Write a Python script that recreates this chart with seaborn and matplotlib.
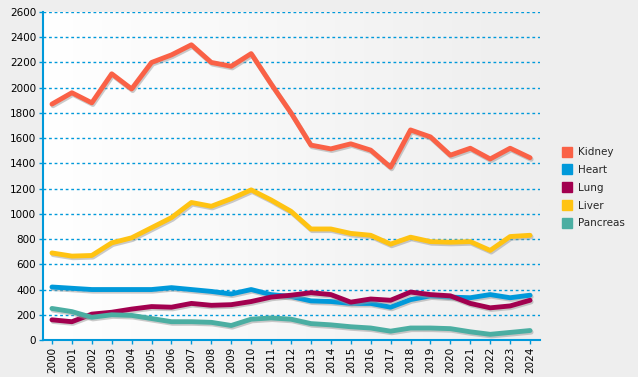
import numpy as np
import matplotlib
matplotlib.use("Agg")
import matplotlib.pyplot as plt
import matplotlib.patheffects as pe
import seaborn as sns
import pandas as pd

years = list(range(2000, 2025))
kidney = [1870, 1960, 1880, 2110, 1990, 2200, 2260, 2340, 2200, 2170, 2270, 2030, 1800, 1545,
          1515, 1555, 1505, 1370, 1665, 1610, 1465, 1520, 1435, 1520, 1445]
heart = [420, 410, 400, 400, 400, 400, 415, 400, 385, 365, 400, 360, 345, 310,
         305, 290, 290, 260, 320, 350, 340, 335, 360, 335, 355]
lung = [160, 145, 205, 220, 245, 265, 260, 290, 275, 280, 305, 340, 355, 375,
        360, 300, 325, 315, 380, 360, 350, 290, 255, 270, 315]
liver = [690, 665, 670, 770, 810, 890, 970, 1090, 1060, 1120, 1190, 1110, 1020, 880,
         880, 845, 830, 760, 815, 780, 775, 780, 710, 820, 830]
pancreas = [250, 225, 180, 200, 195, 170, 145, 145, 140, 115, 165, 175, 165, 130,
            120, 105, 95, 70, 95, 95, 90, 65, 45, 60, 75]

organs = ["Kidney", "Heart", "Lung", "Liver", "Pancreas"]
colors = ["#FA6146", "#0099DA", "#A2004F", "#FFC312", "#4BAEA2"]

df = pd.DataFrame({"year": years, "Kidney": kidney, "Heart": heart, "Lung": lung,
                   "Liver": liver, "Pancreas": pancreas})
long_df = df.melt(id_vars="year", var_name="organ", value_name="count")

sns.set_style("white")
plt.rcParams["font.family"] = ["DejaVu Sans"]

fig = plt.figure(figsize=(6.38, 3.77), dpi=100, facecolor="#EEEEEE")
ax = fig.add_axes([43 / 638, 37 / 377, 497 / 638, 328 / 377])

# plot background gradient, white on the left, grey to the right
grad = np.linspace(0, 1, 256).reshape(1, -1)
ax.imshow(grad, extent=[0, 1, 0, 1], transform=ax.transAxes, aspect="auto",
          cmap=matplotlib.colors.LinearSegmentedColormap.from_list("bg", ["#FFFFFF", "#EEEEEE"]),
          zorder=0)

sns.lineplot(data=long_df, x="year", y="count", hue="organ", hue_order=organs,
             palette=colors, linewidth=3.5, ax=ax, legend=False, zorder=3)
for line in ax.get_lines():
    line.set_solid_joinstyle("round")
    line.set_solid_capstyle("round")
    line.set_path_effects([pe.SimpleLineShadow(offset=(0.8, -1.2), shadow_color="#999999", alpha=0.5),
                           pe.Normal()])

ax.set_xlim(1999.55, 2024.5)
ax.set_ylim(0, 2600)
ax.set_yticks(range(0, 2601, 200))
ax.set_xticks(years)
ax.set_xticklabels([str(y) for y in years], rotation=90)
ax.set_xlabel("")
ax.set_ylabel("")
ax.set_facecolor("none")

ax.yaxis.grid(True, color="#0099DA", linestyle=(0, (2, 2)), linewidth=1)
ax.xaxis.grid(False)
ax.set_axisbelow(True)

for s in ["top", "right"]:
    ax.spines[s].set_visible(False)
for s in ["left", "bottom"]:
    ax.spines[s].set_color("#0099DA")
    ax.spines[s].set_linewidth(1.5)
ax.tick_params(axis="both", colors="#0099DA", labelcolor="black", labelsize=7.5,
               length=3, width=1, pad=2, direction="out", left=True, bottom=True)

handles = [plt.Line2D([], [], marker="s", linestyle="", markersize=7,
                      markerfacecolor=c, markeredgecolor=c) for c in colors]
fig.legend(handles, organs, loc="upper left", bbox_to_anchor=(558 / 638, 1 - 143 / 377),
           frameon=False, fontsize=7.5, handletextpad=0.5, labelspacing=0.75,
           handlelength=1.0, borderaxespad=0)

fig.savefig("out.png", dpi=100, facecolor=fig.get_facecolor())
